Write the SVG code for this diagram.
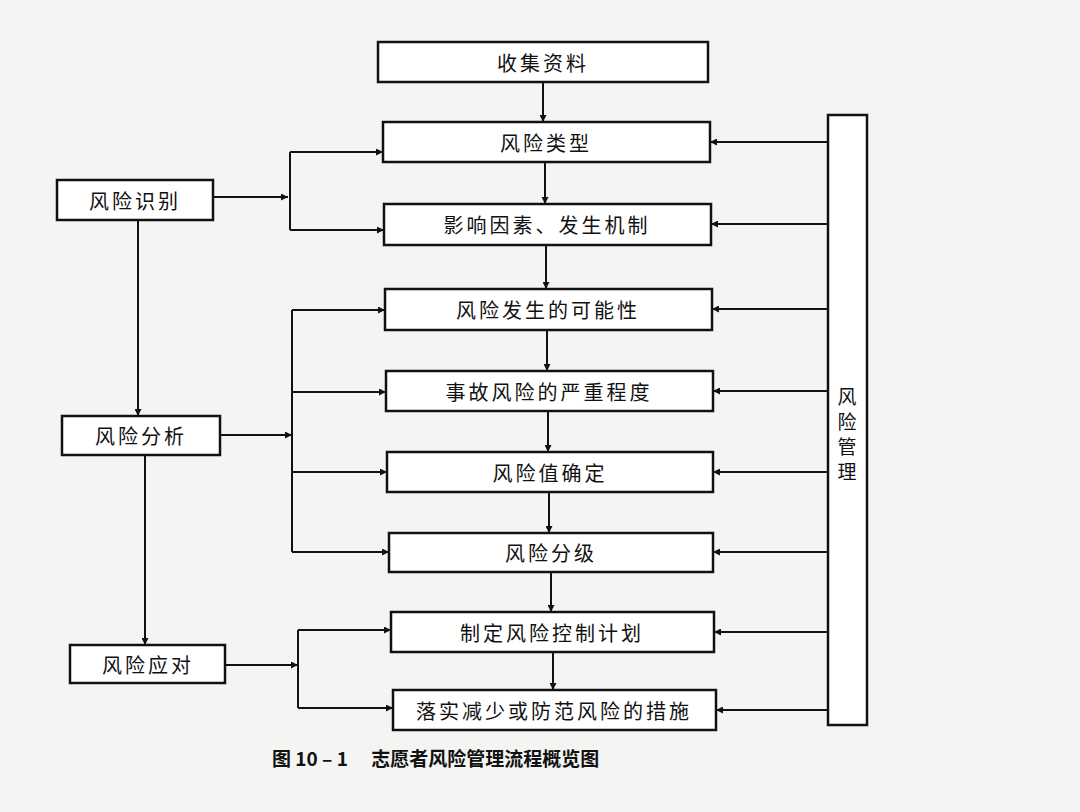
<svg xmlns="http://www.w3.org/2000/svg" width="1080" height="812" viewBox="0 0 1080 812">
<style>
.b{fill:#fff;stroke:#111;stroke-width:2.5}
.t{font-family:"Noto Sans CJK SC","Noto Sans",sans-serif;font-size:20px;fill:#111;text-anchor:middle;dominant-baseline:central;letter-spacing:3px}
.v{font-family:"Noto Sans CJK SC","Noto Sans",sans-serif;font-size:19px;fill:#111;text-anchor:middle;dominant-baseline:central}
.c{stroke:#111;stroke-width:2;fill:none}
.a{stroke:#111;stroke-width:2;fill:none;marker-end:url(#m)}
</style>
<defs><marker id="m" viewBox="0 0 10 10" refX="10" refY="5" markerWidth="7" markerHeight="7" orient="auto" markerUnits="userSpaceOnUse"><path d="M0,0L10,5L0,10z" fill="#111"/></marker></defs>
<rect width="1080" height="812" fill="#f4f4f2"/>
<g id="n1"><rect class="b" x="378" y="42" width="330" height="40"/><text class="t" x="543" y="62">收集资料</text></g>
<g id="n2"><rect class="b" x="383" y="122" width="327" height="40"/><text class="t" x="546" y="142">风险类型</text></g>
<g id="n3"><rect class="b" x="384" y="204" width="327" height="41"/><text class="t" x="547" y="224">影响因素、发生机制</text></g>
<g id="n4"><rect class="b" x="385" y="289" width="327" height="41"/><text class="t" x="548" y="309">风险发生的可能性</text></g>
<g id="n5"><rect class="b" x="386" y="371" width="327" height="40"/><text class="t" x="549" y="391">事故风险的严重程度</text></g>
<g id="n6"><rect class="b" x="387" y="452" width="326" height="40"/><text class="t" x="550" y="472">风险值确定</text></g>
<g id="n7"><rect class="b" x="389" y="533" width="324" height="39"/><text class="t" x="551" y="552">风险分级</text></g>
<g id="n8"><rect class="b" x="391" y="612" width="323" height="40"/><text class="t" x="552" y="632">制定风险控制计划</text></g>
<g id="n9"><rect class="b" x="393" y="690" width="323" height="40"/><text class="t" x="554" y="710">落实减少或防范风险的措施</text></g>
<g id="gl"><rect class="b" x="828" y="115" width="39" height="610"/>
<text class="v" x="847" y="395">风</text><text class="v" x="847" y="420">险</text><text class="v" x="847" y="445">管</text><text class="v" x="847" y="470">理</text></g>
<g id="l1"><rect class="b" x="57" y="180" width="156" height="40"/><text class="t" x="135" y="200">风险识别</text></g>
<g id="l2"><rect class="b" x="62" y="416" width="158" height="39"/><text class="t" x="141" y="435">风险分析</text></g>
<g id="l3"><rect class="b" x="70" y="645" width="155" height="38"/><text class="t" x="148" y="664">风险应对</text></g>
<g id="connectors">
<path class="a" d="M543,82V122"/><path class="a" d="M545,162V204"/><path class="a" d="M546,245V289"/><path class="a" d="M547,330V371"/><path class="a" d="M548,411V452"/><path class="a" d="M549,492V533"/><path class="a" d="M551,572V612"/><path class="a" d="M553,652V690"/>
<path class="a" d="M828,142H710"/><path class="a" d="M828,224H711"/><path class="a" d="M828,309H712"/><path class="a" d="M828,391H713"/><path class="a" d="M828,472H713"/><path class="a" d="M828,552H713"/><path class="a" d="M828,632H714"/><path class="a" d="M828,710H716"/>
<path class="a" d="M213,197H288"/><path class="c" d="M290,152V230"/><path class="a" d="M290,152H383"/><path class="a" d="M290,230H384"/>
<path class="a" d="M138,220V416"/><path class="a" d="M145,455V645"/>
<path class="a" d="M220,435H292"/><path class="c" d="M292,310V552"/><path class="a" d="M292,310H385"/><path class="a" d="M292,392H386"/><path class="a" d="M292,472H387"/><path class="a" d="M292,552H389"/>
<path class="a" d="M225,665H298"/><path class="c" d="M298,630V708"/><path class="a" d="M298,630H391"/><path class="a" d="M298,708H393"/>
</g>
<text x="272" y="757" font-family="Noto Sans CJK SC,sans-serif" font-size="19" font-weight="bold" fill="#111" dominant-baseline="central">图 10 – 1　  志愿者风险管理流程概览图</text>
</svg>
